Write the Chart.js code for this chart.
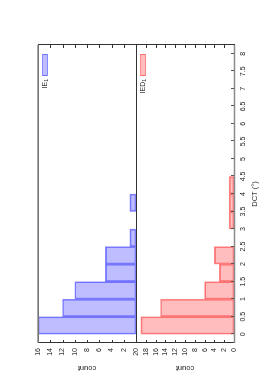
<!DOCTYPE html>
<html>
<head>
<meta charset="utf-8">
<script src="https://cdn.jsdelivr.net/npm/chart.js@4"></script>
<style>
html, body { margin: 0; padding: 0; background: #fff; overflow: hidden; }
/* the chart is drawn upright, then the whole figure is turned a quarter to the left */
#wrap { position: absolute; left: 0; top: 0; width: 389px; height: 273px;
        transform-origin: 0 0; transform: translateY(389px) rotate(-90deg); }
</style>
</head>
<body>
<div id="wrap"><canvas id="hist" width="389" height="273"></canvas></div>
<script>
// histogram bins (left edges, DCT in degrees)
const binStart = [0, 0.5, 1, 1.5, 2, 2.5, 3, 3.5, 4];
const binWidth = 0.5;
// counts per bin
const ie1Counts = [16, 12, 10, 5, 5, 1, 0, 1, 0];
const ied1Counts = [19, 15, 6, 3, 4, 0, 1, 1, 1];
// panel titles / legend labels
const ie1Label = ['IE', '1'];
const ied1Label = ['IED', '1'];

const txt = '#222';
const fam = "'Liberation Sans', Arial, sans-serif";
const tickFont = { family: fam, size: 7 };
const titleFont = { family: fam, size: 7.5 };

const toBars = counts => binStart.map((b, i) => ({ x: b + binWidth / 2, y: counts[i] || null }));

const frame = {
  id: 'frame',
  afterDatasetsDraw(chart) {
    const c = chart.ctx, a = chart.chartArea, xs = chart.scales.x;
    c.save();
    c.lineWidth = 1;
    c.strokeStyle = '#333';
    ['yTop', 'yBot'].forEach(id => {
      const s = chart.scales[id];
      const top = Math.round(s.top) + 0.5, bot = Math.round(s.bottom) + 0.5;
      c.strokeRect(a.left + 0.5, top, Math.round(a.right - a.left), bot - top);
      s.ticks.forEach(t => {
        const py = Math.round(s.getPixelForValue(t.value)) + 0.5;
        c.beginPath();
        c.moveTo(a.left, py); c.lineTo(a.left + 3, py);
        c.moveTo(a.right, py); c.lineTo(a.right - 3, py);
        c.stroke();
      });
    });
    // outer top / bottom edges a bit softer
    c.strokeStyle = '#8a8a8a';
    c.lineWidth = 1.5;
    c.beginPath();
    c.moveTo(a.left, Math.round(a.top)); c.lineTo(a.right, Math.round(a.top));
    c.moveTo(a.left, Math.round(a.bottom) + 0.5); c.lineTo(a.right, Math.round(a.bottom) + 0.5);
    c.stroke();
    c.lineWidth = 1;
    c.strokeStyle = '#555';
    xs.ticks.forEach(t => {
      const px = Math.round(xs.getPixelForValue(t.value)) + 0.5;
      c.beginPath();
      c.moveTo(px, a.bottom); c.lineTo(px, a.bottom - 3);
      c.stroke();
    });
    // legend keys inside each panel, top right
    chart.data.datasets.forEach(ds => {
      const s = chart.scales[ds.yAxisID];
      const cy = Math.round(s.top) + 7;
      const kr = a.right - 9, kl = kr - 22;
      c.fillStyle = ds.backgroundColor;
      c.strokeStyle = ds.borderColor;
      c.fillRect(kl, cy - 2, kr - kl, 4);
      c.strokeRect(kl + 0.5, cy - 2.5, kr - kl - 1, 5);
      c.fillStyle = txt;
      c.textAlign = 'right';
      c.textBaseline = 'middle';
      c.font = '5px ' + fam;
      const sw = c.measureText(ds.sub).width;
      c.fillText(ds.sub, kl - 3, cy + 2);
      c.font = '7px ' + fam;
      c.fillText(ds.label, kl - 3 - sw, cy);
    });
    c.restore();
  }
};

const yAxis = (max, hideZero) => ({
  type: 'linear', position: 'left', stack: 'panels', stackWeight: 1,
  min: 0, max: max,
  ticks: { stepSize: 2, padding: 5, font: tickFont, color: txt, autoSkip: false,
           callback: v => (hideZero && v === 0) ? '' : String(v) },
  grid: { display: false, drawTicks: false }, border: { display: false },
  title: { display: true, text: 'count', font: titleFont, color: txt, padding: { top: 16, bottom: 0 } },
  afterFit: s => { s.width = 46; }
});

new Chart(document.getElementById('hist').getContext('2d'), {
  type: 'bar',
  data: {
    datasets: [{
      label: ie1Label[0], sub: ie1Label[1],
      data: toBars(ie1Counts), yAxisID: 'yTop',
      backgroundColor: 'rgba(0,0,255,0.26)', borderColor: 'rgba(40,40,255,0.55)',
      borderWidth: 1, borderSkipped: false, grouped: false,
      barPercentage: 1, categoryPercentage: 1,
    }, {
      label: ied1Label[0], sub: ied1Label[1],
      data: toBars(ied1Counts), yAxisID: 'yBot',
      backgroundColor: 'rgba(255,0,0,0.26)', borderColor: 'rgba(255,40,40,0.55)',
      borderWidth: 1, borderSkipped: false, grouped: false,
      barPercentage: 1, categoryPercentage: 1,
    }],
  },
  options: {
    responsive: false,
    animation: false,
    devicePixelRatio: 1,
    layout: { padding: { top: 38, right: 45, left: 0, bottom: 0 } },
    plugins: { legend: { display: false }, tooltip: { enabled: false } },
    scales: {
      x: {
        type: 'linear', min: 0, max: 8,
        ticks: { stepSize: 0.5, padding: 5, font: tickFont, color: txt,
                 minRotation: 0, maxRotation: 0, autoSkip: false, callback: v => String(v) },
        grid: { display: false, drawTicks: false }, border: { display: false },
        title: { display: true, text: 'DCT (°)', font: titleFont, color: txt, padding: { top: 0, bottom: 14 } },
        afterFit: s => { s.height = 39; },
      },
      yBot: yAxis(20, false),
      yTop: yAxis(16, true),
    },
  },
  plugins: [frame],
});
</script>
</body>
</html>
